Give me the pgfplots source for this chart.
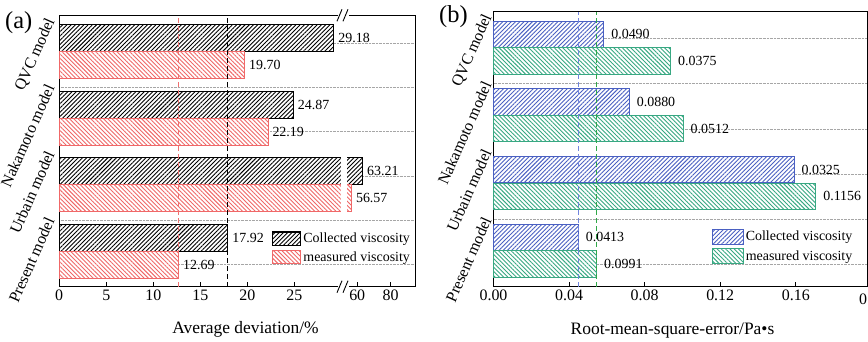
\documentclass[border=0pt]{standalone}
\usepackage{fontspec}
\setmainfont{Liberation Serif}
\usepackage{pgfplots}
\pgfplotsset{compat=1.18}
\usetikzlibrary{patterns.meta}

\definecolor{barred}{RGB}{240,104,104}
\definecolor{barblue}{RGB}{74,96,194}
\definecolor{bargreen}{RGB}{56,168,130}
\definecolor{linered}{RGB}{240,112,112}
\definecolor{lineblue}{RGB}{112,132,222}
\definecolor{linegreen}{RGB}{48,168,72}

\newcommand\fs[1]{\fontsize{#1}{#1}\selectfont}

\tikzset{
  hatchbar/.style n args={3}{draw=#1, line width=#3, fill=white,
    postaction={pattern={Lines[angle=#2,distance=3bp,line width=0.9bp]}, pattern color=#1}},
  catlabel/.style={font=\fs{16}, anchor=base east, inner sep=0pt, rotate=66},
}

\pgfplotsset{
  panel/.style={
    scale only axis, clip=false,
    axis line style={line width=1bp},
    tick align=inside, major tick length=5bp,
    xtick pos=bottom, ytick pos=left,
    ytick={0.8,1.46667,2.13333,2.8,3.46667,4.13333},
    yticklabels={}, ytick style={draw=none},
    ymajorgrids, major grid style={densely dotted, black!35, line width=0.6bp},
    xtick style={line width=1bp, black},
    tick label style={font=\fs{16}},
    /pgf/number format/assume math mode=true,
    legend cell align=left,
    legend style={draw=none, fill=none, inner sep=0pt, font=\fs{14},
      row sep=3bp, anchor=north west},
  },
  hbar/.style={xbar, bar width=#1, point meta=explicit symbolic, nodes near coords,
    nodes near coords style={font=\fs{14}, anchor=west, inner sep=0pt}},
}

\begin{document}
\begin{tikzpicture}
\useasboundingbox (0bp,0bp) rectangle (868bp,342bp);

% (a) average deviation, broken x axis: 0-30 linear, then 51.7-94.7 compressed
\begin{axis}[panel, at={(59.2bp,55.3bp)}, anchor=south west,
  width=355.8bp, height=271.4bp,
  xmin=0, xmax=94.7, ymin=0.468, ymax=4.547,
  x coord trafo/.code={\pgfmathparse{#1<=30.2 ? #1 : 31.67+(#1-60)*0.1769}},
  xtick={0,5,10,15,20,25,60,80}, xticklabels={0,5,10,15,20,25,60,80},
  legend style={at={(0.597,0.205)}},
  legend image code/.code={\draw[#1] (0bp,-6.9bp) rectangle (28.3bp,6.9bp);},
]
\addplot[hbar=0.406, bar shift=0.203, hatchbar={black}{45}{1.3bp},
  nodes near coords style={xshift=4bp, yshift=13.5bp}]
  coordinates {(29.18,4)[29.18] (24.87,3)[24.87] (63.21,2)[63.21] (17.92,1)[17.92]};
\addlegendentry{Collected viscosity}
\addplot[hbar=0.406, bar shift=-0.203, hatchbar={barred}{-45}{1bp},
  nodes near coords style={xshift=4bp, yshift=-13.5bp}]
  coordinates {(19.70,4)[19.70] (22.19,3)[22.19] (56.57,2)[56.57] (12.69,1)[12.69]};
\addlegendentry{measured viscosity}
\addplot[linered, line width=1bp, dash pattern=on 5bp off 3bp, forget plot]
  coordinates {(12.69,0.468) (12.69,4.547)};
\addplot[black, line width=1bp, dash pattern=on 5bp off 3bp, forget plot]
  coordinates {(17.92,0.468) (17.92,4.547)};
\end{axis}

% (b) root-mean-square error
\begin{axis}[panel, at={(493.5bp,55.3bp)}, anchor=south west,
  width=373.5bp, height=275bp,
  xmin=0, xmax=0.1977, ymin=0.468, ymax=4.532,
  xtick={0,0.04,0.08,0.12,0.16}, xticklabels={0.00,0.04,0.08,0.12,0.16},
  legend style={at={(0.584,0.212)}, row sep=3.4bp},
  legend image code/.code={\draw[#1] (0bp,-7.5bp) rectangle (31bp,7.5bp);},
]
\addplot[hbar=0.393, bar shift=0.197, hatchbar={barblue}{45}{1bp},
  nodes near coords style={xshift=7bp, yshift=13.3bp}]
  coordinates {(0.0584,4)[0.0490] (0.0719,3)[0.0880] (0.1591,2)[0.0325] (0.0449,1)[0.0413]};
\addlegendentry{Collected viscosity}
\addplot[hbar=0.393, bar shift=-0.197, hatchbar={bargreen}{-45}{1bp},
  nodes near coords style={xshift=7bp, yshift=-13.3bp}]
  coordinates {(0.0938,4)[0.0375] (0.1004,3)[0.0512] (0.1706,2)[0.1156] (0.0546,1)[0.0991]};
\addlegendentry{measured viscosity}
\addplot[lineblue, line width=1bp, dash pattern=on 5bp off 3bp, forget plot]
  coordinates {(0.0449,0.468) (0.0449,4.532)};
\addplot[linegreen, line width=1bp, dash pattern=on 5bp off 3bp, forget plot]
  coordinates {(0.0546,0.468) (0.0546,4.532)};
\end{axis}

\begin{scope}[x=1bp,y=1bp]
  % gap through the Urbain bars and the break marks on the axis lines
  \fill[white] (341,129.5) rectangle (347,184.8);
  \foreach \yy in {326.7,55.3} {
    \fill[white] (337.5,\yy-2.5) rectangle (348.5,\yy+2.5);
    \draw[line width=0.9bp] (337,\yy-6) -- (342,\yy+6) (343,\yy-6) -- (348,\yy+6);
  }
  \node[font=\fs{16}, anchor=north, inner sep=0pt] at (873,48) {0.20};

  % category names
  \node[catlabel] at (55,321) {QVC model};
  \node[catlabel] at (55,254.5) {Nakamoto model};
  \node[catlabel] at (55,188) {Urbain model};
  \node[catlabel] at (55,121.4) {Present model};
  \node[catlabel] at (492,325) {QVC model};
  \node[catlabel] at (492,257.3) {Nakamoto model};
  \node[catlabel] at (492,189.7) {Urbain model};
  \node[catlabel] at (492,122) {Present model};

  % axis titles and panel tags
  \node[font=\fs{17.5}, anchor=base] at (245.5,8.7) {Average deviation/\%};
  \node[font=\fs{17.5}, anchor=base] at (672.5,8) {Root-mean-square-error/Pa•s};
  \node[font=\fs{24.5}, anchor=base west, inner sep=0pt] at (5,313.4) {(a)};
  \node[font=\fs{24.5}, anchor=base west, inner sep=0pt] at (439,319.7) {(b)};
\end{scope}
\end{tikzpicture}
\end{document}
